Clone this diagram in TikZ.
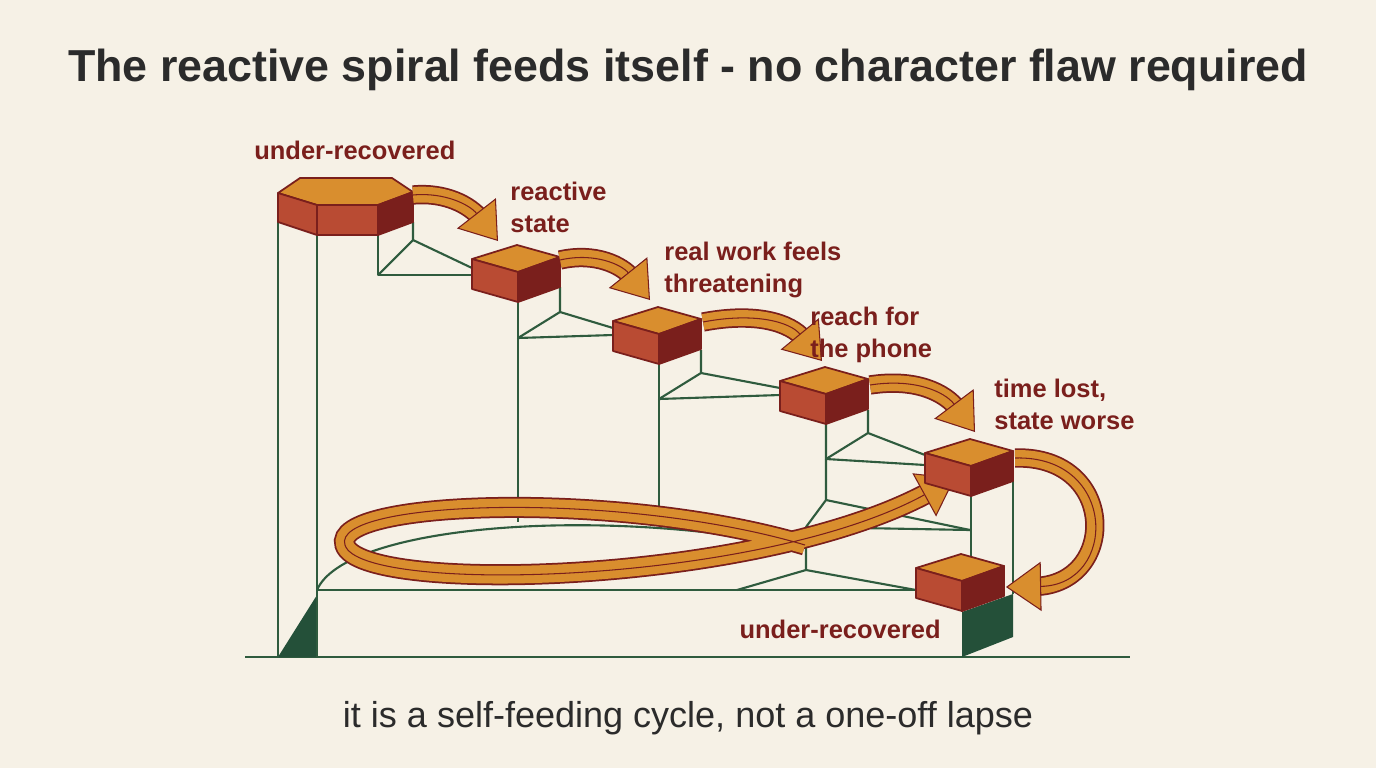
\documentclass[tikz,border=0pt]{standalone}
\usepackage{fontspec}
\setmainfont{Liberation Sans}
\usetikzlibrary{arrows.meta}
\definecolor{paper}{HTML}{F6F1E6}
\definecolor{frame}{HTML}{2F5B3E}
\definecolor{deepgreen}{HTML}{245039}
\definecolor{ochre}{HTML}{D98E2E}
\definecolor{brick}{HTML}{B94B33}
\definecolor{maroon}{HTML}{7A1F1C}
\definecolor{ink}{HTML}{2B2B2B}
\tikzset{
  scaffold/.style={frame,line width=1.2pt,line join=round},
  lbl/.style={text=maroon,font=\fontsize{14.5}{17}\selectfont\bfseries,align=left,inner sep=0pt},
  flowbody/.style={maroon,line width=1pt,double=ochre,double distance=#1,shorten >=16pt},
  flowtip/.style={maroon,line width=0.6pt,line join=miter,
    -{Triangle[length=20pt,width=28pt,fill=ochre]}},
}
% cube with front-left top vertex at (#1,#2)
\newcommand{\blockcube}[2]{%
  \draw[maroon,line width=1pt,line join=round,fill=ochre]
    (#1,#2) -- ++(45,-14) -- ++(43,12) -- ++(-42,15) -- cycle;
  \draw[maroon,line width=1pt,line join=round,fill=brick]
    (#1,#2) -- ++(46,13) -- ++(0,30) -- ++(-46,-13) -- cycle;
  \draw[maroon,line width=1pt,line join=round,fill=maroon]
    (#1+46,#2+13) -- ++(42,-15) -- ++(0,30) -- ++(-42,15) -- cycle;
}
% thick outlined arrow along a path
\newcommand{\flowarrow}[2]{%
  \draw[flowbody=#1] #2;
  \draw[flowtip] #2;
}
\begin{document}
\begin{tikzpicture}[x=0.02cm,y=-0.02cm]
\fill[paper] (0,0) rectangle (1376,768);
\node[ink,font=\fontsize{25.5}{30}\selectfont\bfseries] (title) at (688,70)
  {The reactive spiral feeds itself - no character flaw required};
\node[ink,font=\fontsize{20.5}{24}\selectfont] (caption) at (688,718)
  {it is a self-feeding cycle, not a one-off lapse};

% scaffold
\draw[scaffold] (245,657) -- (1130,657);
\fill[deepgreen] (278,657) -- (317,595) -- (317,657) -- cycle;
\fill[deepgreen] (962,612) -- (1013,594) -- (1013,637) -- (962,657) -- cycle;
\draw[scaffold] (278,195) -- (278,657);
\draw[scaffold] (317,235) -- (317,657);
\draw[scaffold] (378,235) -- (378,275) -- (472,275);
\draw[scaffold] (413,222) -- (413,240) -- (378,275);
\draw[scaffold] (413,240) -- (472,268);
\draw[scaffold] (518,303) -- (518,522);
\draw[scaffold] (560,287) -- (560,312) -- (518,338) -- (613,335);
\draw[scaffold] (560,312) -- (613,328);
\draw[scaffold] (659,363) -- (659,525);
\draw[scaffold] (701,350) -- (701,373) -- (659,399) -- (780,395);
\draw[scaffold] (701,373) -- (780,388);
\draw[scaffold] (826,423) -- (826,500) -- (806,527) -- (806,570);
\draw[scaffold] (868,410) -- (868,433) -- (826,459) -- (925,465);
\draw[scaffold] (868,433) -- (925,455);
\draw[scaffold] (826,500) -- (970,530);
\draw[scaffold] (806,527) -- (970,530);
\draw[scaffold] (971,496) -- (971,590);
\draw[scaffold] (1013,481) -- (1013,594);
\draw[scaffold] (737,590) -- (806,570) -- (916,590);
\draw[scaffold] (317,590) -- (916,590);
\draw[scaffold] (317,590) .. controls (345,525) and (600,505) .. (806,548);

% big return loop
\flowarrow{10pt}{(805,545) .. controls (620,490) and (330,500) .. (345,545)
  .. controls (360,595) and (760,585) .. (955,478)}

% first step: hexagonal block
\draw[maroon,line width=1pt,line join=round,fill=ochre]
  (278,193) -- (300,178) -- (392,178) -- (413,192) -- (378,205) -- (317,205) -- cycle;
\draw[maroon,line width=1pt,line join=round,fill=brick]
  (278,193) -- (317,205) -- (378,205) -- (378,235) -- (317,235) -- (278,222) -- cycle;
\draw[maroon,line width=1pt,line join=round,fill=maroon]
  (378,205) -- (413,192) -- (413,222) -- (378,235) -- cycle;
\draw[maroon,line width=1pt] (317,205) -- (317,235);

\blockcube{472}{259}
\blockcube{613}{321}
\blockcube{780}{381}
\blockcube{925}{453}
\blockcube{916}{568}

% step arrows
\flowarrow{9pt}{(413,195) .. controls (445,192) and (470,205) .. (498,241)}
\flowarrow{9pt}{(560,260) .. controls (595,252) and (622,265) .. (650,300)}
\flowarrow{9pt}{(703,322) .. controls (755,312) and (790,322) .. (822,361)}
\flowarrow{9pt}{(870,385) .. controls (915,378) and (945,392) .. (975,432)}
\flowarrow{9pt}{(1015,458) .. controls (1118,455) and (1118,585) .. (1006,587)}

% labels
\node[lbl,anchor=north west] (startlbl) at (254,141) {under-recovered};
\node[lbl,anchor=north west] (reactlbl) at (510,182) {reactive\\[1pt]state};
\node[lbl,anchor=north west] (threatlbl) at (664,242) {real work feels\\[1pt]threatening};
\node[lbl,anchor=north west] (phonelbl) at (810,307) {reach for\\[1pt]the phone};
\node[lbl,anchor=north west] (lostlbl) at (994,379) {time lost,\\[1pt]state worse};
\node[lbl,anchor=north east] (endlbl) at (941,620) {under-recovered};
\end{tikzpicture}
\end{document}
